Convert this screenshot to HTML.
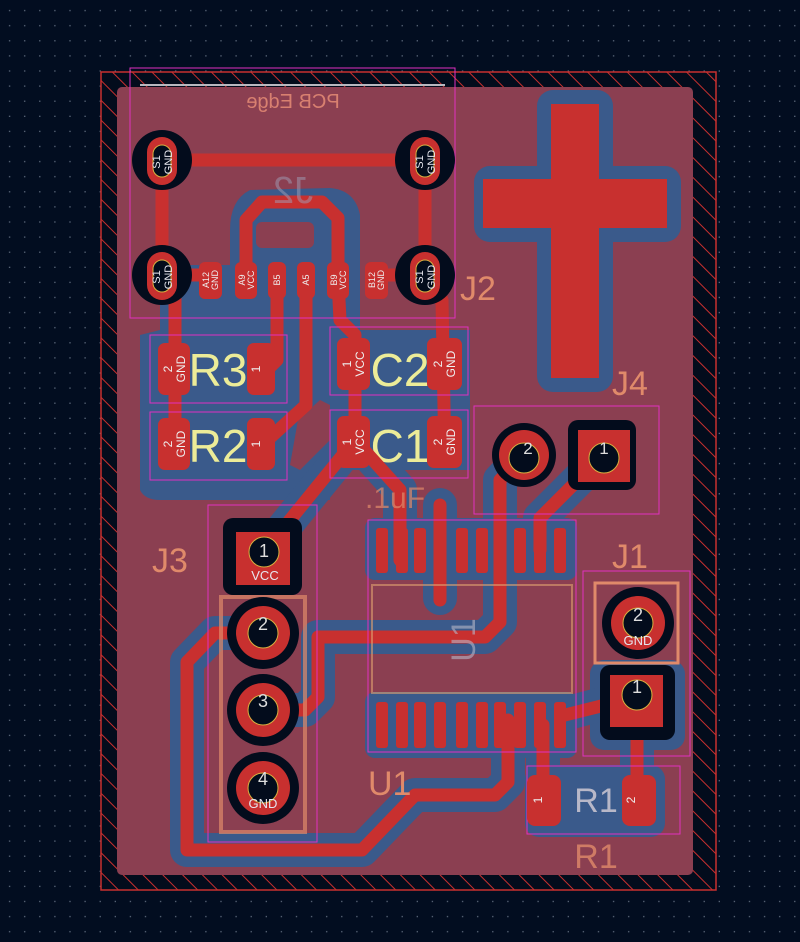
<!DOCTYPE html>
<html><head><meta charset="utf-8"><style>
html,body{margin:0;padding:0;background:#020d20;}
svg{display:block;font-family:"Liberation Sans","DejaVu Sans",sans-serif;}
</style></head><body>
<svg width="800" height="942" viewBox="0 0 800 942" xmlns="http://www.w3.org/2000/svg">
<defs>
<pattern id="grid" width="15.1" height="15.1" patternUnits="userSpaceOnUse" x="3" y="3">
<rect x="6" y="7" width="1.2" height="1.2" fill="#6d7a8c"/>
</pattern>
<pattern id="hatch" width="14" height="14" patternUnits="userSpaceOnUse" patternTransform="rotate(-45)">
<rect width="14" height="14" fill="#030c1c"/>
<line x1="0" y1="0" x2="0" y2="14" stroke="#c8302f" stroke-width="2"/>
</pattern>
</defs>
<rect width="800" height="942" fill="#020d20"/>
<rect width="800" height="942" fill="url(#grid)"/>
<rect x="101" y="72" width="615" height="818" fill="url(#hatch)" stroke="#c8302f" stroke-width="1.5"/>
<rect x="117" y="87" width="576" height="788" rx="5" fill="#8b3f51"/>

<g fill="#3a5a8b">
<path d="M250,190 Q230,200 230,230 L230,265 L175,265 Q160,275 160,290 L160,330 L140,335 L140,490 Q145,500 160,500 L330,500 L330,470 L470,470 L470,330 L360,330 L360,215 Q355,190 330,188 Z"/>
<rect x="365" y="518" width="212" height="62" rx="10"/>
<rect x="365" y="692" width="212" height="66" rx="10"/>
<rect x="474" y="166" width="207" height="76" rx="16"/>
<rect x="537" y="90" width="76" height="302" rx="16"/>
<rect x="525" y="765" width="140" height="72" rx="14"/>
<rect x="590" y="660" width="95" height="90" rx="14"/>
</g>
<g fill="#8b3f51">
<rect x="256" y="222" width="58" height="26" rx="6"/>
<path d="M298,420 L320,400 L330,405 L330,440 L300,470 L290,465 Z"/>
</g>

<g fill="none" stroke="#3a5a8b" stroke-width="34" stroke-linejoin="round" stroke-linecap="round">
<path d="M263,633 L215,633 L187,662 L187,850 L362,850 L415,795 L495,795 L508,782 L508,720"/>
<path d="M263,710 L305,710 L318,697 L318,637 L485,637 L500,622 L500,480 L524,455"/>
<path d="M603,455 L540,518 L540,545"/>
<path d="M264,552 L355,440"/>
<path d="M355,440 L400,490 L400,550"/>
<path d="M440,505 L440,598"/>
<path d="M637,695 L560,715"/>
<path d="M637,700 L637,800"/>
<path d="M543,800 L543,725"/>
</g>

<rect x="483" y="179" width="184" height="49" fill="#c8302f"/>
<rect x="551" y="104" width="48" height="274" fill="#c8302f"/>

<g font-size="46" fill="#ecec98" text-anchor="middle">
<text x="218" y="386">R3</text><text x="218" y="462">R2</text>
<text x="400" y="386">C2</text><text x="400" y="462">C1</text>
</g>

<g fill="none" stroke="#c8302f" stroke-width="13" stroke-linejoin="round" stroke-linecap="round">
<path d="M162,160 L425,160"/>
<path d="M162,160 L162,275"/>
<path d="M425,160 L425,275"/>
<path d="M162,275 L210,275"/>
<path d="M376,275 L425,275"/>
<path d="M175,290 L175,460"/>
<path d="M425,290 L442,300 L445,460"/>
<path d="M246,270 L246,220 L262,202 L322,202 L338,218 L338,270"/>
<path d="M338,280 L340,320 L355,335 L355,440"/>
<path d="M277,280 L277,360 L262,375"/>
<path d="M306,280 L306,405 L262,445"/>
<path d="M264,552 L355,440"/>
<path d="M355,440 L400,490 L400,560"/>
<path d="M440,505 L440,600"/>
<path d="M263,633 L215,633 L187,662 L187,850 L362,850 L415,795 L495,795 L508,782 L508,720"/>
<path d="M263,710 L305,710 L318,697 L318,637 L485,637 L500,622 L500,480 L524,455"/>
<path d="M603,455 L540,518 L540,550"/>
<path d="M637,697 L565,715"/>
<path d="M637,700 L637,800"/>
<path d="M543,800 L543,725"/>
</g>

<rect x="130" y="68" width="325" height="250" fill="none" stroke="#e030c0" stroke-width="1"/>
<line x1="140" y1="85" x2="445" y2="85" stroke="#b8b8c0" stroke-width="2"/>
<text x="293" y="108" font-size="20" fill="#d88070" text-anchor="middle" transform="translate(586,0) scale(-1,1)">PCB Edge</text>
<text x="293" y="203" font-size="38" fill="#a0a0b8" opacity="0.5" text-anchor="middle" transform="translate(586,0) scale(-1,1)">J2</text>
<g>
<circle cx="162" cy="160" r="30" fill="#030c1c"/><circle cx="425" cy="160" r="30" fill="#030c1c"/>
<circle cx="162" cy="275" r="30" fill="#030c1c"/><circle cx="425" cy="275" r="30" fill="#030c1c"/>
</g>
<g fill="#c8302f">
<rect x="147" y="137" width="30" height="48" rx="15"/><rect x="410" y="137" width="30" height="48" rx="15"/>
<rect x="147" y="252" width="30" height="48" rx="15"/><rect x="410" y="252" width="30" height="48" rx="15"/>
</g>
<g fill="#030c1c" stroke="#d8b040" stroke-width="1">
<rect x="153" y="145" width="18" height="32" rx="9"/><rect x="416" y="145" width="18" height="32" rx="9"/>
<rect x="153" y="260" width="18" height="32" rx="9"/><rect x="416" y="260" width="18" height="32" rx="9"/>
</g>
<g font-size="11" fill="#e6e6ee" text-anchor="middle">
<text transform="translate(162,162) rotate(-90)" dy="-2">S1</text><text transform="translate(162,162) rotate(-90)" dy="10">GND</text>
<text transform="translate(425,162) rotate(-90)" dy="-2">S1</text><text transform="translate(425,162) rotate(-90)" dy="10">GND</text>
<text transform="translate(162,277) rotate(-90)" dy="-2">S1</text><text transform="translate(162,277) rotate(-90)" dy="10">GND</text>
<text transform="translate(425,277) rotate(-90)" dy="-2">S1</text><text transform="translate(425,277) rotate(-90)" dy="10">GND</text>
</g>
<g fill="#c8302f">
<rect x="199" y="262" width="23" height="37" rx="6"/>
<rect x="235" y="262" width="22" height="37" rx="6"/>
<rect x="268" y="262" width="18" height="37" rx="6"/>
<rect x="297" y="262" width="18" height="37" rx="6"/>
<rect x="327" y="262" width="22" height="37" rx="6"/>
<rect x="365" y="262" width="23" height="37" rx="6"/>
</g>
<g font-size="9" fill="#eee" text-anchor="middle">
<text transform="translate(210,280) rotate(-90)" dy="-1">A12</text><text transform="translate(210,280) rotate(-90)" dy="8">GND</text>
<text transform="translate(246,280) rotate(-90)" dy="-1">A9</text><text transform="translate(246,280) rotate(-90)" dy="8">VCC</text>
<text transform="translate(277,280) rotate(-90)" dy="3">B5</text>
<text transform="translate(306,280) rotate(-90)" dy="3">A5</text>
<text transform="translate(338,280) rotate(-90)" dy="-1">B9</text><text transform="translate(338,280) rotate(-90)" dy="8">VCC</text>
<text transform="translate(376,280) rotate(-90)" dy="-1">B12</text><text transform="translate(376,280) rotate(-90)" dy="8">GND</text>
</g>
<text x="460" y="300" font-size="34" fill="#e08a6a">J2</text>

<g fill="none" stroke="#e030c0" stroke-width="1">
<rect x="150" y="335" width="137" height="68"/><rect x="150" y="412" width="137" height="68"/>
<rect x="330" y="327" width="138" height="68"/><rect x="330" y="410" width="138" height="68"/>
</g>
<g fill="#c8302f">
<rect x="158" y="343" width="32" height="52" rx="7"/><rect x="247" y="343" width="28" height="52" rx="7"/>
<rect x="158" y="418" width="32" height="52" rx="7"/><rect x="247" y="418" width="28" height="52" rx="7"/>
<rect x="337" y="338" width="33" height="52" rx="7"/><rect x="427" y="338" width="35" height="52" rx="7"/>
<rect x="337" y="416" width="33" height="52" rx="7"/><rect x="427" y="416" width="35" height="52" rx="7"/>
</g>
<g font-size="12" fill="#eee" text-anchor="middle">
<text transform="translate(174,369) rotate(-90)" dy="-2">2</text><text transform="translate(174,369) rotate(-90)" dy="11">GND</text>
<text transform="translate(174,444) rotate(-90)" dy="-2">2</text><text transform="translate(174,444) rotate(-90)" dy="11">GND</text>
<text transform="translate(261,369) rotate(-90)" dy="-1">1</text>
<text transform="translate(261,444) rotate(-90)" dy="-1">1</text>
<text transform="translate(353,364) rotate(-90)" dy="-2">1</text><text transform="translate(353,364) rotate(-90)" dy="11">VCC</text>
<text transform="translate(353,442) rotate(-90)" dy="-2">1</text><text transform="translate(353,442) rotate(-90)" dy="11">VCC</text>
<text transform="translate(444,364) rotate(-90)" dy="-2">2</text><text transform="translate(444,364) rotate(-90)" dy="11">GND</text>
<text transform="translate(444,442) rotate(-90)" dy="-2">2</text><text transform="translate(444,442) rotate(-90)" dy="11">GND</text>
</g>
<text x="365" y="508" font-size="30" fill="#e08a6a" opacity="0.7">.1uF</text>

<rect x="474" y="406" width="185" height="108" fill="none" stroke="#e030c0"/>
<text x="612" y="395" font-size="34" fill="#e08a6a">J4</text>
<circle cx="524" cy="455" r="32" fill="#030c1c"/>
<circle cx="524" cy="455" r="25" fill="#c8302f"/>
<circle cx="524" cy="458" r="15" fill="#030c1c" stroke="#d8b040"/>
<rect x="568" y="420" width="68" height="70" rx="10" fill="#030c1c"/>
<rect x="578" y="430" width="52" height="52" fill="#c8302f"/>
<circle cx="604" cy="458" r="15" fill="#030c1c" stroke="#d8b040"/>
<text x="528" y="454" font-size="17" fill="#ddd" text-anchor="middle">2</text>
<text x="604" y="454" font-size="17" fill="#ddd" text-anchor="middle">1</text>

<rect x="208" y="505" width="109" height="337" fill="none" stroke="#e030c0"/>
<rect x="221" y="597" width="84" height="235" fill="none" stroke="#e08a6a" stroke-width="4" opacity="0.7"/>
<text x="152" y="572" font-size="34" fill="#e08a6a">J3</text>
<rect x="223" y="518" width="79" height="77" rx="10" fill="#030c1c"/>
<rect x="236" y="532" width="54" height="53" fill="#c8302f"/>
<circle cx="264" cy="552" r="15" fill="#030c1c" stroke="#d8b040"/>
<g fill="#030c1c"><circle cx="263" cy="633" r="36"/><circle cx="263" cy="710" r="36"/><circle cx="263" cy="788" r="36"/></g>
<g fill="#c8302f"><circle cx="263" cy="633" r="27"/><circle cx="263" cy="710" r="27"/><circle cx="263" cy="788" r="27"/></g>
<g fill="#030c1c" stroke="#d8b040"><circle cx="263" cy="633" r="15"/><circle cx="263" cy="710" r="15"/><circle cx="263" cy="788" r="15"/></g>
<g font-size="18" fill="#ddd" text-anchor="middle">
<text x="264" y="557">1</text><text x="263" y="630">2</text><text x="263" y="707">3</text><text x="263" y="785">4</text>
</g>
<text x="265" y="580" font-size="13" fill="#e6e6ee" text-anchor="middle">VCC</text>
<text x="263" y="808" font-size="13" fill="#e6e6ee" text-anchor="middle">GND</text>

<rect x="368" y="520" width="208" height="232" fill="none" stroke="#e030c0"/>
<rect x="372" y="585" width="200" height="108" fill="none" stroke="#e0a070" stroke-width="2" opacity="0.6"/>
<text transform="translate(475,640) rotate(-90)" font-size="34" fill="#b8b8c8" opacity="0.6" text-anchor="middle">U1</text>
<g fill="#c8302f">
<rect x="376" y="528" width="12" height="45" rx="3"/><rect x="396" y="528" width="12" height="45" rx="3"/><rect x="414" y="528" width="12" height="45" rx="3"/>
<rect x="456" y="528" width="12" height="45" rx="3"/><rect x="476" y="528" width="12" height="45" rx="3"/><rect x="494" y="528" width="12" height="45" rx="3"/>
<rect x="514" y="528" width="12" height="45" rx="3"/><rect x="534" y="528" width="12" height="45" rx="3"/><rect x="554" y="528" width="12" height="45" rx="3"/>
<rect x="376" y="702" width="12" height="46" rx="3"/><rect x="396" y="702" width="12" height="46" rx="3"/><rect x="414" y="702" width="12" height="46" rx="3"/>
<rect x="434" y="702" width="12" height="46" rx="3"/><rect x="456" y="702" width="12" height="46" rx="3"/><rect x="476" y="702" width="12" height="46" rx="3"/>
<rect x="494" y="702" width="12" height="46" rx="3"/><rect x="514" y="702" width="12" height="46" rx="3"/><rect x="534" y="702" width="12" height="46" rx="3"/>
<rect x="554" y="702" width="12" height="46" rx="3"/>
</g>
<text x="368" y="795" font-size="34" fill="#e08a6a">U1</text>

<rect x="583" y="571" width="107" height="185" fill="none" stroke="#e030c0"/>
<text x="612" y="568" font-size="34" fill="#e08a6a">J1</text>
<rect x="595" y="583" width="83" height="80" fill="none" stroke="#e08a6a" stroke-width="3"/>
<circle cx="638" cy="623" r="36" fill="#030c1c"/>
<circle cx="638" cy="623" r="27" fill="#c8302f"/>
<circle cx="638" cy="623" r="15" fill="#030c1c" stroke="#d8b040"/>
<text x="638" y="621" font-size="18" fill="#ddd" text-anchor="middle">2</text>
<text x="638" y="645" font-size="13" fill="#e6e6ee" text-anchor="middle">GND</text>
<rect x="600" y="665" width="75" height="75" rx="10" fill="#030c1c"/>
<rect x="610" y="675" width="53" height="52" fill="#c8302f"/>
<circle cx="637" cy="695" r="15" fill="#030c1c" stroke="#d8b040"/>
<text x="637" y="693" font-size="18" fill="#ddd" text-anchor="middle">1</text>

<rect x="527" y="766" width="153" height="68" fill="none" stroke="#e030c0"/>
<text x="596" y="812" font-size="34" fill="#b8b8c8" text-anchor="middle">R1</text>
<text x="596" y="868" font-size="34" fill="#e08a6a" opacity="0.8" text-anchor="middle">R1</text>
<rect x="527" y="775" width="34" height="51" rx="8" fill="#c8302f"/>
<rect x="622" y="775" width="34" height="51" rx="8" fill="#c8302f"/>
<text transform="translate(543,800) rotate(-90)" font-size="12" fill="#eee" text-anchor="middle" dy="-1">1</text>
<text transform="translate(631,800) rotate(-90)" font-size="12" fill="#eee" text-anchor="middle" dy="4">2</text>
</svg>
</body></html>
